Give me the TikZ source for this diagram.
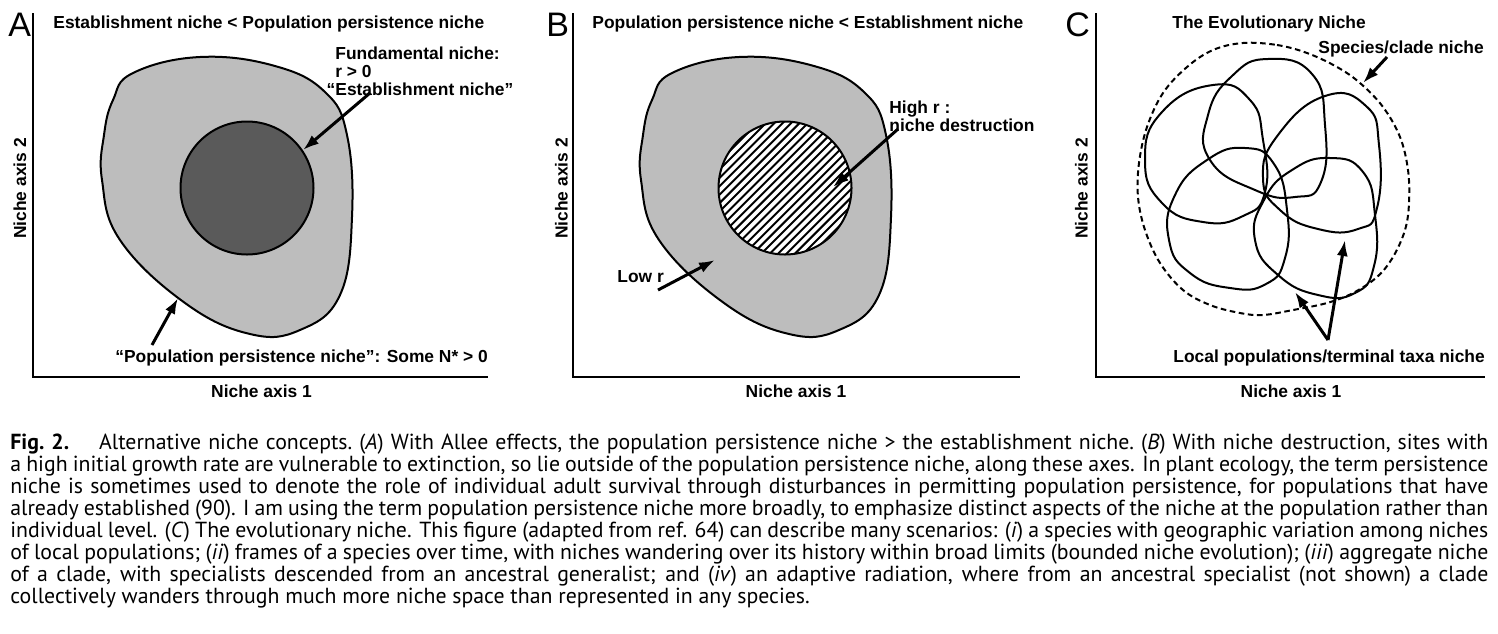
\documentclass[tikz,border=0pt]{standalone}
\usepackage{fontspec}
\setmainfont{Liberation Sans}
\newfontfamily\captionfont{PT Sans}
\usetikzlibrary{arrows.meta}

\definecolor{outergray}{HTML}{BDBDBD}
\definecolor{innergray}{HTML}{5A5A5A}

\newcommand\capline[1]{\hbox to 739pt{#1}}
\newcommand\capsetup{\frenchspacing\spaceskip=0.23em plus 0.5em minus 0.13em\relax}

\tikzset{
  lbl/.style={inner sep=0pt, font=\fontsize{8.7}{9}\selectfont\bfseries},
  panel/.style={inner sep=0pt, font=\fontsize{17}{17}\selectfont},
  axisline/.style={line width=1pt},
  outline/.style={line width=1pt},
  niche/.style={line width=1pt, line join=round},
  pointer/.style={line width=1.5pt, -{Latex[length=8pt,width=5.5pt]}},
  hatch/.style={line width=1pt},
  captext/.style={inner sep=0pt, align=left, font=\captionfont\fontsize{10.9}{11}\selectfont},
}

\begin{document}
\begin{tikzpicture}[x=0.5pt,y=-0.5pt]
\useasboundingbox (0,0) rectangle (1498,633);

\foreach \dx in {0,539}
  \draw[outline, fill=outergray, xshift=\dx*0.5pt] plot[smooth cycle, tension=0.7] coordinates {(113,100) (133,73) (200,57) (275,66) (325,92) (347,135) (352,217) (340,295) (300,330) (250,334) (185,303) (120,240) (102,180) (104,135)};

\draw[outline, fill=innergray] (247,188) circle[radius=66.5];

\begin{scope}
  \clip (785,188) circle[radius=66.5];
  \fill[white] (785,188) circle[radius=66.5];
  \foreach \c in {-11,...,11}
    \draw[hatch] (785+\c*8.4-90,278) -- (785+\c*8.4+90,98);
\end{scope}
\draw[outline] (785,188) circle[radius=66.5];

\draw[niche, dash pattern=on 2.8pt off 1.8pt] plot[smooth cycle, tension=0.6] coordinates {(1243,43) (1277,45) (1307,53) (1337,67) (1360,83) (1383,107) (1400,137) (1408,170) (1409,203) (1405,230) (1393,257) (1377,277) (1353,293) (1327,303) (1293,310) (1263,315) (1240,313) (1210,305) (1183,290) (1160,263) (1145,230) (1138,197) (1139,163) (1147,127) (1163,93) (1187,67) (1213,50)};

\draw[niche] plot[smooth cycle, tension=0.85] coordinates {(1268,59) (1312,74) (1325,125) (1321,182) (1295,197) (1255,190) (1210,160) (1208,115) (1232,76)};
\draw[niche] plot[smooth cycle, tension=0.85] coordinates {(1213,85) (1250,100) (1263,140) (1265,192) (1243,216) (1203,222) (1162,203) (1145,160) (1162,112)};
\draw[niche] plot[smooth cycle, tension=0.85] coordinates {(1325,96) (1366,106) (1379,145) (1377,208) (1358,229) (1318,229) (1280,210) (1263,178) (1278,135)};
\draw[niche] plot[smooth cycle, tension=0.85] coordinates {(1330,158) (1363,172) (1375,215) (1374,266) (1355,293) (1318,295) (1278,275) (1255,240) (1264,200) (1292,170)};
\draw[niche] plot[smooth cycle, tension=0.85] coordinates {(1245,148) (1274,164) (1287,210) (1285,258) (1266,284) (1230,288) (1190,273) (1169,240) (1175,195) (1207,160)};

\foreach \ax/\xe in {33/488,573/1020,1096/1485}
  \draw[axisline] (\ax,13) -- (\ax,377) -- (\xe,377);

\node[panel, anchor=base west] (letA) at (8,36.5) {A};
\node[panel, anchor=base west] (letB) at (546,36) {B};
\node[panel, anchor=base west] (letC) at (1065,36) {C};

\node[lbl, anchor=base west] (titleA) at (53,28) {Establishment niche < Population persistence niche};
\node[lbl, anchor=base west] (titleB) at (592,28) {Population persistence niche < Establishment niche};
\node[lbl, anchor=base west] (titleC) at (1172,28) {The Evolutionary Niche};

\foreach \n/\cx/\yx in {A/261.5/20, B/796/561.5, C/1291/1081.5}{
  \node[lbl, anchor=base] (xlab\n) at (\cx,397) {Niche axis 1};
  \node[lbl, rotate=90] (ylab\n) at (\yx,188.5) {Niche axis 2};
}

\node[lbl, align=left, anchor=north west] (fund) at (335,46.5) {Fundamental niche:\\r > 0\\\llap{“}Establishment niche”};
\node[lbl, anchor=base west] (persist) at (115,362) {“Population persistence niche”: Some N* > 0};
\node[lbl, align=left, anchor=north west] (highr) at (889,100.5) {High r :\\niche destruction};
\node[lbl, anchor=base west] (lowr) at (617,282) {Low r};
\node[lbl, anchor=base west] (clade) at (1318,53) {Species/clade niche};
\node[lbl, anchor=base west] (local) at (1173,362) {Local populations/terminal taxa niche};

\coordinate (fundTail) at (370,93);
\coordinate (fundTip) at (303,150);
\coordinate (persistTail) at (152,345);
\coordinate (persistTip) at (178,298);
\coordinate (highTail) at (898,129);
\coordinate (highTip) at (833,187);
\coordinate (lowTail) at (658,290);
\coordinate (lowTip) at (715,260);
\coordinate (cladeTail) at (1387,57);
\coordinate (cladeTip) at (1363,83);
\coordinate (localTail) at (1328,340);
\coordinate (localTipA) at (1295,292);
\coordinate (localTipB) at (1345,240);
\draw[pointer] (fundTail) -- (fundTip);
\draw[pointer] (persistTail) -- (persistTip);
\draw[pointer] (highTail) -- (highTip);
\draw[pointer] (lowTail) -- (lowTip);
\draw[pointer] (cladeTail) -- (cladeTip);
\draw[pointer] (localTail) -- (localTipA);
\draw[pointer] (localTail) -- (localTipB);

\node[captext, anchor=north west] (caption) at (10,434) {\capsetup
\capline{\textbf{Fig. 2.}\hspace*{15pt}Alternative niche concepts. (\textit{A}) With Allee effects, the population persistence niche > the establishment niche. (\textit{B}) With niche destruction, sites with}\\
\capline{a high initial growth rate are vulnerable to extinction, so lie outside of the population persistence niche, along these axes. In plant ecology, the term persistence}\\
\capline{niche is sometimes used to denote the role of individual adult survival through disturbances in permitting population persistence, for populations that have}\\
\capline{already established (90). I am using the term population persistence niche more broadly, to emphasize distinct aspects of the niche at the population rather than}\\
\capline{individual level. (\textit{C}) The evolutionary niche. This figure (adapted from ref. 64) can describe many scenarios: (\textit{i}) a species with geographic variation among niches}\\
\capline{of local populations; (\textit{ii}) frames of a species over time, with niches wandering over its history within broad limits (bounded niche evolution); (\textit{iii}) aggregate niche}\\
\capline{of a clade, with specialists descended from an ancestral generalist; and (\textit{iv}) an adaptive radiation, where from an ancestral specialist (not shown) a clade}\\
collectively wanders through much more niche space than represented in any species.};
\end{tikzpicture}
\end{document}
